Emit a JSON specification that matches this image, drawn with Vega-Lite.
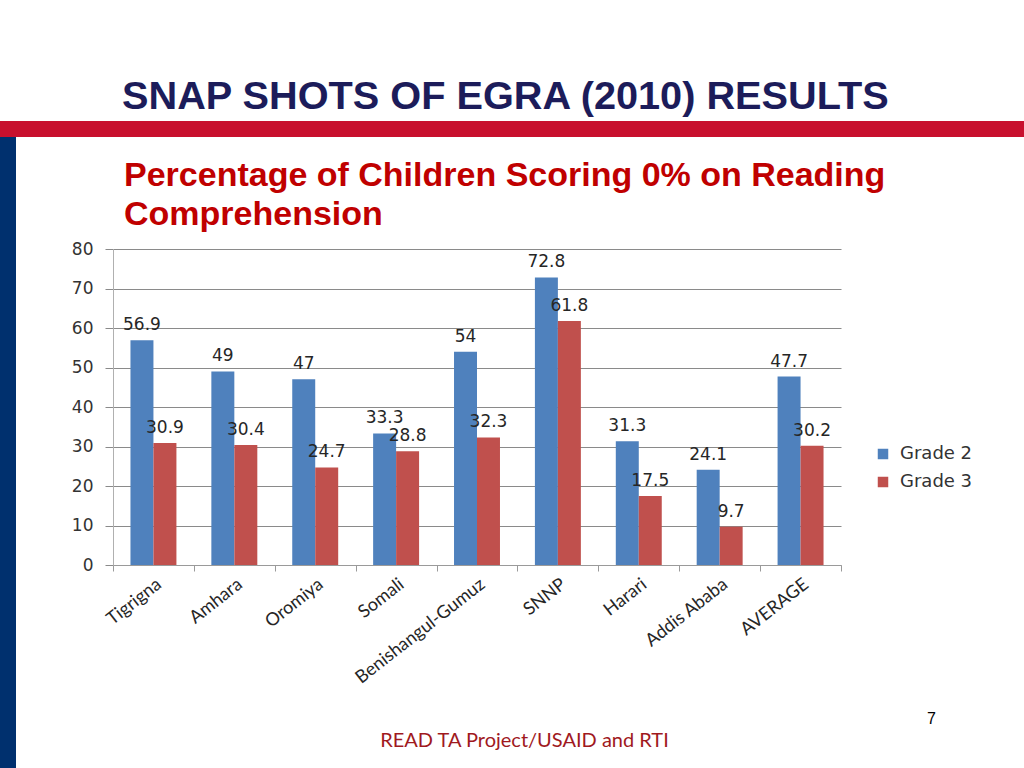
{
  "$schema": "https://vega.github.io/schema/vega-lite/v6.json",
  "background": "white",
  "padding": {"left": 0, "top": 77, "right": 0, "bottom": 0},
  "spacing": 0,
  "config": {"view": {"stroke": null}},
  "vconcat": [
    {
      "width": 1024,
      "height": 16,
      "view": {"fill": "#c8102e", "stroke": null},
      "title": {"text": "SNAP SHOTS OF EGRA (2010) RESULTS", "anchor": "start", "frame": "group", "dx": 122, "offset": 3, "font": "Liberation Sans", "fontSize": 39.7, "fontWeight": "bold", "color": "#1c1c5a"},
      "data": {"values": [{"t": ""}]},
      "mark": {"type": "text", "opacity": 0},
      "encoding": {"text": {"field": "t"}}
    },
    {
      "spacing": 55,
      "hconcat": [
        {
          "width": 16,
          "height": 632,
          "view": {"fill": "#00306e", "stroke": null},
          "data": {"values": [{"t": ""}]},
          "mark": {"type": "text", "opacity": 0},
          "encoding": {"text": {"field": "t"}}
        },
        {
          "spacing": 7,
          "vconcat": [
            {
              "width": 22,
              "height": 96,
              "data": {"values": [{"t": "Percentage of Children Scoring 0% on Reading\nComprehension"}]},
              "mark": {"type": "text", "align": "left", "baseline": "middle", "dy": -9, "lineBreak": "\n", "lineHeight": 39, "font": "Liberation Sans", "fontSize": 34, "fontWeight": "bold", "color": "#c00000"},
              "encoding": {"text": {"field": "t"}}
            },
            {
              "width": 728,
              "height": 316,
              "data": {"values": [
                {"region": "Tigrigna", "grade": "Grade 2", "value": 56.9},
                {"region": "Tigrigna", "grade": "Grade 3", "value": 30.9},
                {"region": "Amhara", "grade": "Grade 2", "value": 49},
                {"region": "Amhara", "grade": "Grade 3", "value": 30.4},
                {"region": "Oromiya", "grade": "Grade 2", "value": 47},
                {"region": "Oromiya", "grade": "Grade 3", "value": 24.7},
                {"region": "Somali", "grade": "Grade 2", "value": 33.3},
                {"region": "Somali", "grade": "Grade 3", "value": 28.8},
                {"region": "Benishangul-Gumuz", "grade": "Grade 2", "value": 54},
                {"region": "Benishangul-Gumuz", "grade": "Grade 3", "value": 32.3},
                {"region": "SNNP", "grade": "Grade 2", "value": 72.8},
                {"region": "SNNP", "grade": "Grade 3", "value": 61.8},
                {"region": "Harari", "grade": "Grade 2", "value": 31.3},
                {"region": "Harari", "grade": "Grade 3", "value": 17.5},
                {"region": "Addis Ababa", "grade": "Grade 2", "value": 24.1},
                {"region": "Addis Ababa", "grade": "Grade 3", "value": 9.7},
                {"region": "AVERAGE", "grade": "Grade 2", "value": 47.7},
                {"region": "AVERAGE", "grade": "Grade 3", "value": 30.2}
              ]},
              "encoding": {
                "x": {
                  "field": "region", "type": "nominal",
                  "sort": ["Tigrigna", "Amhara", "Oromiya", "Somali", "Benishangul-Gumuz", "SNNP", "Harari", "Addis Ababa", "AVERAGE"],
                  "scale": {"paddingInner": 0, "paddingOuter": 0},
                  "axis": {
                    "labelAngle": -38, "labelFont": "Lato", "labelFontSize": 18, "labelColor": "#262626", "labelPadding": 4,
                    "tickBand": "extent", "tickSize": 6, "tickColor": "#9a9a9a", "domainColor": "#9a9a9a",
                    "title": "READ TA Project/USAID and RTI", "titleFont": "Lato", "titleFontSize": 20, "titleFontWeight": "normal", "titleColor": "#a0191e",
                    "titleX": 411, "titleY": 181, "titleAlign": "center", "titleBaseline": "alphabetic", "titleAnchor": null
                  }
                },
                "xOffset": {"field": "grade", "type": "nominal", "scale": {"paddingInner": 0, "paddingOuter": 0.76}},
                "y": {
                  "field": "value", "type": "quantitative",
                  "scale": {"domain": [0, 80]},
                  "axis": {
                    "values": [0, 10, 20, 30, 40, 50, 60, 70, 80],
                    "labelFont": "DejaVu Sans", "labelFontSize": 17, "labelColor": "#333333", "labelPadding": 12,
                    "tickSize": 8, "tickColor": "#8a8a8a", "domainColor": "#b0b0b0", "gridColor": "#8a8a8a", "gridOpacity": 1,
                    "title": "7", "titleAngle": 0, "titleX": 818, "titleY": 474, "titleAlign": "center", "titleBaseline": "alphabetic",
                    "titleFont": "Liberation Sans", "titleFontSize": 16, "titleFontWeight": "normal", "titleColor": "#000000", "titleAnchor": null
                  }
                }
              },
              "layer": [
                {
                  "mark": {"type": "bar"},
                  "encoding": {
                    "color": {
                      "field": "grade", "type": "nominal",
                      "scale": {"domain": ["Grade 2", "Grade 3"], "range": ["#4f81bd", "#c0504d"]},
                      "legend": {
                        "title": null, "orient": "none", "legendX": 874, "legendY": 324,
                        "symbolType": "square", "symbolSize": 110, "symbolStrokeWidth": 0,
                        "labelFont": "DejaVu Sans", "labelFontSize": 18, "labelColor": "#333333", "rowPadding": 10, "labelOffset": 8
                      }
                    }
                  }
                },
                {
                  "mark": {"type": "text", "baseline": "bottom", "dy": -6, "font": "DejaVu Sans", "fontSize": 17, "color": "#262626"},
                  "encoding": {"text": {"field": "value", "type": "quantitative"}}
                }
              ]
            }
          ]
        }
      ]
    }
  ]
}
